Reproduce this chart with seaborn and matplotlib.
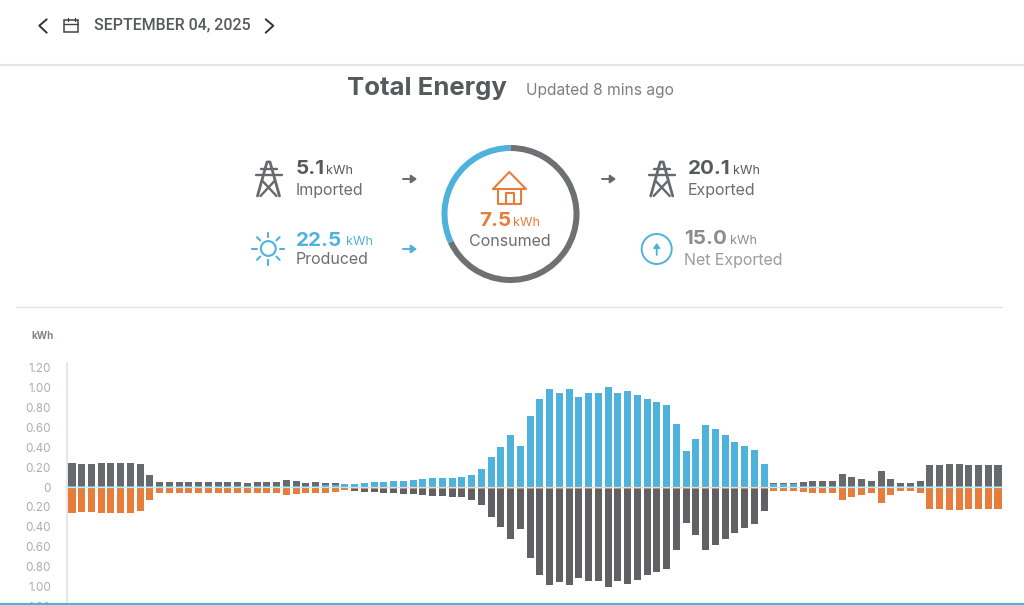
import numpy as np
import matplotlib
matplotlib.use("Agg")
import matplotlib.pyplot as plt
from matplotlib.patches import Wedge, Circle, Polygon
from matplotlib.ticker import FuncFormatter
import seaborn as sns

# Energy per 15-minute slot (kWh) over one day
produced = [.012] * 24 + [.015, .015, .02, .025, .03, .035, .04, .047, .055, .06, .065, .07,
            .077, .087, .087, .094, .097, .125, .18, .30, .40, .52, .41, .715, .89, .985,
            .95, .985, .91, .945, .945, 1.01, .945, .97, .93, .89, .855, .825, .635, .36,
            .485, .63, .58, .52, .455, .41, .37, .235, .03, .03, .03] + [.015] * 21
imported = [.228, .223, .223, .228, .228, .228, .228, .218, .106] + [.038] * 9 + [.028, .038,
            .038, .038, .055, .045, .03, .035, .025, .012, .003] + [0] * 43 + [.014, .014,
            .014, .035, .049, .049, .049, .119, .085, .069, .042, .143, .062, .029, .029,
            .049, .21, .21, .217, .217, .21, .21, .21, .21]
consumed = [.26, .25, .25, .26, .26, .26, .26, .245, .13] + [.065] * 9 + [.057, .065, .065,
            .065, .08, .07, .057, .065, .057, .05, .03] + [.025] * 43 + [.044, .044, .044,
            .054, .064, .064, .064, .134, .104, .084, .057, .158, .077, .044, .044, .064,
            .225, .225, .232, .232, .225, .225, .225, .225]
exported = [0] * 28 + [.003, .015, .022, .029, .035, .039, .045, .049, .055, .065, .065, .072,
            .079, .105, .155, .28, .375, .502, .395, .695, .865, .965, .931, .965, .891,
            .925, .925, .988, .925, .948, .911, .865, .835, .80, .615, .335, .462, .609,
            .559, .495, .435, .388, .347, .213] + [0] * 24
tick_values = [1.2, 1.0, .8, .6, .4, .2, 0, -.2, -.4, -.6, -.8, -1.0, -1.2]

date_label = "SEPTEMBER 04, 2025"
imported_total, produced_total, consumed_total = 5.1, 22.5, 7.5
exported_total, net_total = 20.1, 15.0

GREY = "#68696c"
DARK = "#58595b"
BLUE = "#4fb2dd"
ORANGE = "#e87c3b"
W, H = 1024, 605
VALUE_SIZE, UNIT_SIZE, NAME_SIZE = 14.8, 9.1, 11.5

sns.set_theme(style="white")
plt.rcParams["font.family"] = ["Inter", "DejaVu Sans"]

fig = plt.figure(figsize=(W / 100, H / 100), dpi=100, facecolor="white")

# Bar chart, placed by pixel: zero line at y=487, 99.2 px per kWh
top_px, bottom_px, left_px, right_px = 363, 608, 67, 1002
ax = fig.add_axes([left_px / W, 1 - bottom_px / H, (right_px - left_px) / W, (bottom_px - top_px) / H])
slots = np.arange(len(produced))
prod, imp, cons, exp = map(np.array, (produced, imported, consumed, exported))
bar = dict(x=slots, width=0.72, saturation=1, errorbar=None, ax=ax, linewidth=0)
sns.barplot(y=prod + imp, color=GREY, **bar)
sns.barplot(y=prod, color=BLUE, **bar)
sns.barplot(y=-(cons + exp), color="#616165", **bar)
sns.barplot(y=-cons, color=ORANGE, **bar)

step = (998 - 72) / 95
ax.set_xlim(-(72 - left_px) / step, 95 + (right_px - 998) / step)
ax.set_ylim(-(bottom_px - 487) / 99.2, (487 - top_px) / 99.2)
ax.set_xticks([])
ax.set_xlabel("")
ax.set_ylabel("")
ax.set_yticks(tick_values)
ax.yaxis.set_major_formatter(FuncFormatter(lambda v, _: "0" if abs(v) < 1e-9 else f"{abs(v):.2f}"))
ax.tick_params(axis="y", length=0, pad=11.5, labelsize=8.4, labelcolor="#a9aeb3")
for side in ("top", "right", "bottom"):
    ax.spines[side].set_visible(False)
ax.spines["left"].set_color("#e2e3e5")
ax.spines["left"].set_linewidth(1.2)
ax.axhline(0, color="#cfe3ee", lw=0.9, zorder=5)
ax.patch.set_alpha(0)

# Summary panel above the chart, in pixel coordinates
ov = fig.add_axes([0, 0, 1, 1], facecolor="none")
ov.set_xlim(0, W)
ov.set_ylim(H, 0)
ov.axis("off")


def label(x, y, s, size, color=DARK, weight="normal", ha="left", **kw):
    ov.text(x, y, s, fontsize=size, color=color, fontweight=weight, ha=ha, va="center", **kw)


def path(xs, ys, color=DARK, lw=1.3):
    ov.plot(xs, ys, color=color, lw=lw, solid_capstyle="round", solid_joinstyle="round")


def pylon(cx, color=GREY):
    path([cx - 11, cx - 1.5, cx + 1.5, cx + 11], [196, 162, 162, 196], color, 2)
    path([cx - 8, cx + 8], [169, 169], color, 1.7)
    path([cx - 13, cx + 13], [175, 175], color, 1.7)
    path([cx - 6, cx + 8], [181, 196], color, 1.7)
    path([cx + 6, cx - 8], [181, 196], color, 1.7)


def arrow(x0, x1, y, color):
    ov.annotate("", xy=(x1, y), xytext=(x0, y),
                arrowprops=dict(arrowstyle="-|>,head_width=0.2,head_length=0.28", color=color,
                                lw=1.4, shrinkA=0, shrinkB=0))


# Date bar
ov.plot([0, W], [65, 65], color="#e4e4e4", lw=1.6)
ov.plot([16, 1002], [307, 307], color="#e3e3e3", lw=1)
path([46.7, 39.3, 46.7], [19.3, 25.7, 32.7], "#333333", 1.4)
path([265.7, 273.3, 265.7], [19.3, 25.7, 32.7], "#333333", 1.4)
ov.add_patch(Polygon([(64, 20), (78, 20), (78, 32), (64, 32)], closed=True, fill=False, ec="#444444", lw=1.1))
path([64, 78], [23.5, 23.5], "#444444", 1)
path([67.5, 67.5], [18, 21], "#444444", 1)
path([74.5, 74.5], [18, 21], "#444444", 1)
ov.text(94, 25, date_label, fontsize=11.4, color=DARK, va="center", ha="left",
        family=["Roboto", "DejaVu Sans"], fontweight="medium")

# Heading
label(347, 88, "Total Energy", 18.5, DARK, "bold")
label(526, 91, "Updated 8 mins ago", 11.2, "#7c7e81")

# Left column
pylon(268.5)
label(296, 169.5, f"{imported_total:.1f}", VALUE_SIZE, DARK, "bold")
label(326, 171.5, "kWh", UNIT_SIZE, DARK)
label(296, 191, "Imported", NAME_SIZE, "#6d6e71")
arrow(403, 417, 179, GREY)

sun = (268.3, 248.5)
ov.add_patch(Circle(sun, 7.4, fill=False, ec=BLUE, lw=1.5))
for a in np.deg2rad(np.arange(0, 360, 45)):
    path([sun[0] + 11.5 * np.cos(a), sun[0] + 16 * np.cos(a)],
         [sun[1] + 11.5 * np.sin(a), sun[1] + 16 * np.sin(a)], BLUE, 1.5)
label(296, 240.5, f"{produced_total:.1f}", VALUE_SIZE, BLUE, "bold")
label(346, 242, "kWh", UNIT_SIZE, BLUE)
label(296, 260, "Produced", NAME_SIZE, "#6d6e71")
arrow(403, 417, 249, BLUE)

# Ring: blue share is the part of consumption covered by own production
ring = (510.5, 214)
share = (consumed_total - imported_total) / consumed_total
blue_start = 270 - 360 * share
ov.add_patch(Wedge(ring, 69, blue_start, 270, width=6, fc=BLUE, ec="none"))
ov.add_patch(Wedge(ring, 69, 270, blue_start + 360, width=6, fc="#6e7073", ec="none"))
path([493, 509.3, 526, 493], [189, 172, 189, 189], ORANGE, 1.5)
path([498, 498, 520.7, 520.7], [189, 204, 204, 189], ORANGE, 1.5)
path([505.7, 505.7, 514, 514], [204, 192.7, 192.7, 204], ORANGE, 1.5)
label(479, 221, f"{consumed_total:.1f}", VALUE_SIZE, ORANGE, "bold")
label(513, 223.5, "kWh", UNIT_SIZE, ORANGE)
label(469, 242, "Consumed", NAME_SIZE, "#6d6e71")

# Right column
arrow(602, 616, 179, GREY)
pylon(661.7)
label(688, 169.5, f"{exported_total:.1f}", VALUE_SIZE, DARK, "bold")
label(733, 171.5, "kWh", UNIT_SIZE, DARK)
label(688, 191, "Exported", NAME_SIZE, "#6d6e71")

ov.add_patch(Circle((656.7, 249), 15, fill=False, ec=BLUE, lw=1.4))
ov.annotate("", xy=(656.7, 243), xytext=(656.7, 255),
            arrowprops=dict(arrowstyle="-|>,head_width=0.16,head_length=0.22", color=BLUE,
                            lw=1.3, shrinkA=0, shrinkB=0))
label(684, 239.5, f"{net_total:.1f}", VALUE_SIZE, "#8a8c8e", "bold")
label(730, 241.5, "kWh", UNIT_SIZE, "#8a8c8e")
label(684, 260, "Net Exported", NAME_SIZE, "#9a9c9e")

# Chart unit and bottom rule
label(31, 336, "kWh", 7.2, "#7d858b", "bold")
ov.plot([0, W], [604, 604], color=BLUE, lw=1.5, solid_capstyle="butt")

fig.savefig("out.png", dpi=100, facecolor="white")
